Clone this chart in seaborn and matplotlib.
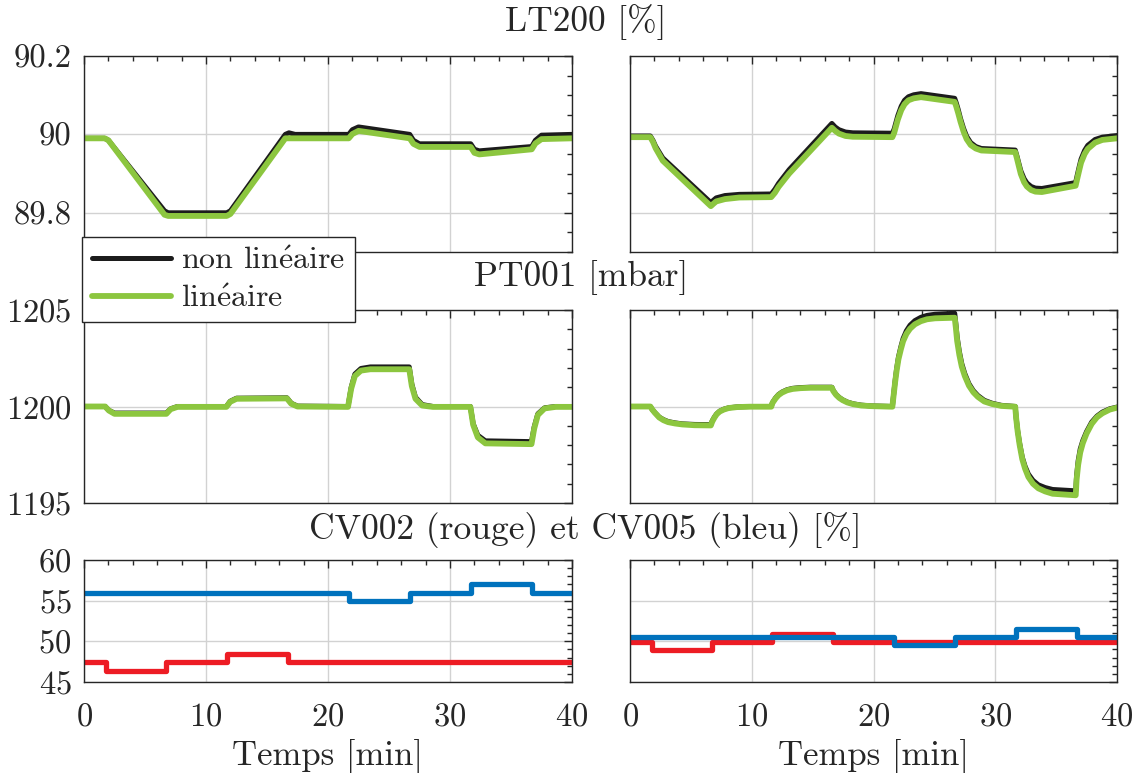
import numpy as np
import pandas as pd
import seaborn as sns
import matplotlib.pyplot as plt
from matplotlib.ticker import MultipleLocator

sns.set_style("white")
plt.rcParams['font.family'] = ['cmr10', 'DejaVu Serif']
plt.rcParams['mathtext.fontset'] = 'cm'
plt.rcParams['axes.formatter.use_mathtext'] = True

# LT200 [%] - left (black = non lineaire, green = lineaire)
t_lt_l = [0, 1.7, 2.0, 6.6, 6.9, 11.7, 12.0, 16.5, 16.8, 17.3, 21.7, 22.0, 22.5,
          26.7, 27.0, 27.5, 31.7, 32.0, 32.4, 36.7, 37.0, 37.5, 40]
lt_l_nl = [89.99, 89.99, 89.985, 89.805, 89.80, 89.80, 89.805, 90.0, 90.004, 90.0,
           90.0, 90.012, 90.019, 90.0, 89.985, 89.976, 89.976, 89.962, 89.958,
           89.969, 89.985, 89.998, 90.0]
lt_l_lin = [89.99, 89.99, 89.985, 89.795, 89.792, 89.792, 89.797, 89.99, 89.99, 89.99,
            89.99, 90.001, 90.009, 89.99, 89.976, 89.968, 89.968, 89.953, 89.949,
            89.962, 89.977, 89.988, 89.99]

# LT200 [%] - right
t_lt_r = [0, 1.67, 1.9, 2.1, 2.69, 6.64, 6.85, 7.08, 7.8, 8.98, 11.6, 11.9, 12.2,
          13.07, 16.58, 16.85, 17.16, 17.7, 18.3, 21.55, 21.7, 21.84, 22.0, 22.28,
          22.55, 22.87, 23.3, 23.9, 26.67, 26.8, 26.96, 27.15, 27.4, 27.65, 27.98,
          28.4, 28.86, 31.64, 31.78, 31.93, 32.1, 32.37, 32.6, 32.95, 33.3, 33.83,
          36.6, 36.75, 36.9, 37.05, 37.34, 37.6, 38.2, 38.8, 40]
lt_r_nl = [89.996, 89.996, 89.984, 89.970, 89.940, 89.826, 89.832, 89.838, 89.844,
           89.847, 89.848, 89.860, 89.875, 89.910, 90.028, 90.019, 90.012, 90.006,
           90.004, 90.003, 90.014, 90.030, 90.048, 90.072, 90.087, 90.096, 90.101,
           90.104, 90.092, 90.080, 90.063, 90.040, 90.015, 89.995, 89.979, 89.969,
           89.964, 89.960, 89.945, 89.927, 89.907, 89.887, 89.876, 89.867, 89.863,
           89.862, 89.877, 89.898, 89.918, 89.937, 89.959, 89.972, 89.987, 89.993,
           89.997]
lt_r_lin = [89.993, 89.993, 89.980, 89.965, 89.933, 89.817, 89.823, 89.829, 89.835,
            89.839, 89.840, 89.851, 89.866, 89.900, 90.017, 90.009, 90.002, 89.996,
            89.994, 89.993, 90.004, 90.020, 90.038, 90.062, 90.077, 90.087, 90.092,
            90.095, 90.083, 90.071, 90.054, 90.032, 90.007, 89.988, 89.973, 89.964,
            89.959, 89.955, 89.939, 89.920, 89.899, 89.878, 89.867, 89.858, 89.854,
            89.853, 89.869, 89.889, 89.909, 89.928, 89.950, 89.963, 89.979, 89.986,
            89.990]

# PT001 [mbar] - left
t_pt_l = [0, 1.73, 2.04, 2.5, 6.75, 7.1, 7.66, 11.67, 11.98, 12.5, 16.63, 16.99,
          17.5, 21.64, 21.9, 22.2, 22.7, 23.47, 26.66, 26.87, 27.17, 27.72, 28.6,
          31.67, 31.9, 32.28, 32.9, 36.68, 36.9, 37.2, 37.75, 38.66, 40]
pt_l_nl = [1200.0, 1200.0, 1199.8, 1199.66, 1199.66, 1199.88, 1200.0, 1200.0,
           1200.27, 1200.43, 1200.45, 1200.17, 1200.02, 1200.0, 1200.99, 1201.68,
           1201.97, 1202.05, 1202.05, 1201.16, 1200.48, 1200.10, 1200.0, 1200.0,
           1199.11, 1198.51, 1198.22, 1198.18, 1198.94, 1199.62, 1199.93, 1200.0,
           1200.0]
pt_l_lin = [1200.0, 1200.0, 1199.79, 1199.62, 1199.62, 1199.86, 1199.98, 1199.98,
            1200.24, 1200.40, 1200.42, 1200.14, 1200.0, 1199.98, 1200.92, 1201.58,
            1201.86, 1201.93, 1201.93, 1201.06, 1200.40, 1200.05, 1199.98, 1199.98,
            1199.05, 1198.40, 1198.09, 1198.05, 1198.85, 1199.56, 1199.90, 1199.98,
            1199.98]

# PT001 [mbar] - right
t_pt_r = [0, 1.67, 1.82, 2.02, 2.4, 2.75, 3.13, 3.7, 4.3, 5.3, 6.64,
          6.75, 6.93, 7.12, 7.37, 7.7, 8.1, 8.8, 9.85,
          11.6, 11.7, 11.96, 12.2, 12.49, 12.9, 13.36, 14.0, 14.82,
          16.58, 16.7, 16.93, 17.18, 17.46, 17.85, 18.33, 19.0, 19.8,
          21.55, 21.65, 21.78, 21.9, 22.05, 22.25, 22.43, 22.7, 23.0, 23.4, 23.89, 24.4, 25.06,
          26.67, 26.77, 26.87, 27.05, 27.25, 27.5, 27.84, 28.2, 28.57, 29.1, 29.74, 30.5,
          31.64, 31.72, 31.84, 32.0, 32.22, 32.45, 32.72, 33.1, 33.54, 34.1, 34.71,
          36.61, 36.68, 36.81, 36.98, 37.19, 37.5, 37.92, 38.35, 38.8, 39.4, 40]
pt_r_nl = [1200.0, 1200.0, 1199.85, 1199.7, 1199.45, 1199.32, 1199.22, 1199.15, 1199.1, 1199.07, 1199.06,
           1199.25, 1199.45, 1199.62, 1199.76, 1199.86, 1199.93, 1199.98, 1200.0,
           1200.0, 1200.2, 1200.45, 1200.62, 1200.75, 1200.87, 1200.94, 1200.98, 1201.0,
           1201.0, 1200.82, 1200.62, 1200.47, 1200.35, 1200.23, 1200.14, 1200.07, 1200.03,
           1200.0, 1200.6, 1201.35, 1201.95, 1202.56, 1203.1, 1203.52, 1203.92, 1204.21, 1204.45, 1204.62, 1204.72, 1204.78,
           1204.83, 1204.25, 1203.6, 1202.85, 1202.22, 1201.7, 1201.18, 1200.82, 1200.57, 1200.32, 1200.17, 1200.06,
           1200.0, 1199.4, 1198.75, 1198.1, 1197.37, 1196.9, 1196.5, 1196.17, 1195.94, 1195.8, 1195.7,
           1195.63, 1196.4, 1197.19, 1197.8, 1198.23, 1198.7, 1199.19, 1199.5, 1199.71, 1199.88, 1199.97]
pt_r_lin = [1200.0, 1200.0, 1199.85, 1199.69, 1199.43, 1199.29, 1199.19, 1199.12, 1199.07, 1199.03, 1199.02,
            1199.21, 1199.42, 1199.6, 1199.74, 1199.84, 1199.92, 1199.97, 1199.99,
            1199.99, 1200.18, 1200.42, 1200.59, 1200.72, 1200.84, 1200.91, 1200.95, 1200.97,
            1200.97, 1200.8, 1200.6, 1200.45, 1200.33, 1200.21, 1200.12, 1200.05, 1200.02,
            1199.99, 1200.56, 1201.28, 1201.86, 1202.45, 1202.97, 1203.38, 1203.76, 1204.03, 1204.26, 1204.42, 1204.52, 1204.57,
            1204.6, 1204.05, 1203.4, 1202.68, 1202.07, 1201.58, 1201.08, 1200.74, 1200.5, 1200.26, 1200.13, 1200.03,
            1199.99, 1199.38, 1198.7, 1198.02, 1197.27, 1196.78, 1196.35, 1196.0, 1195.76, 1195.6, 1195.48,
            1195.4, 1196.2, 1196.98, 1197.62, 1198.1, 1198.6, 1199.1, 1199.44, 1199.65, 1199.84, 1199.94]

# CV002 (rouge) / CV005 (bleu) [%]
t_cv = [0, 1.8, 6.7, 11.7, 16.7, 21.7, 26.7, 31.7, 36.7, 40]
cv002_l = [47.4, 46.4, 47.4, 48.4, 47.4, 47.4, 47.4, 47.4, 47.4, 47.4]
cv005_l = [56.0, 56.0, 56.0, 56.0, 56.0, 55.0, 56.0, 57.0, 56.0, 56.0]
cv002_r = [49.9, 48.9, 49.9, 50.9, 49.9, 49.9, 49.9, 49.9, 49.9, 49.9]
cv005_r = [50.5, 50.5, 50.5, 50.5, 50.5, 49.55, 50.5, 51.55, 50.5, 50.5]

BLACK = '#1c1c1c'
GREEN = '#8cc63f'
RED = '#ed1c24'
BLUE = '#0072bd'
INK = '#262626'

fig = plt.figure(figsize=(11.37, 7.73), dpi=100)
W, H = 1137, 773


def px_axes(x0, y0, x1, y1):
    return fig.add_axes([x0 / W, (H - y1) / H, (x1 - x0) / W, (y1 - y0) / H])


cols = [(84, 572), (630, 1117)]
rows = [(56, 252), (310, 503), (560, 682)]
axes = [[px_axes(c[0], r[0], c[1], r[1]) for c in cols] for r in rows]

lt = [(t_lt_l, lt_l_nl, lt_l_lin), (t_lt_r, lt_r_nl, lt_r_lin)]
pt = [(t_pt_l, pt_l_nl, pt_l_lin), (t_pt_r, pt_r_nl, pt_r_lin)]
cv = [(cv002_l, cv005_l), (cv002_r, cv005_r)]

for j in range(2):
    for i, sets in enumerate([lt, pt]):
        t, nl, lin = sets[j]
        ax = axes[i][j]
        sns.lineplot(x=t, y=nl, ax=ax, color=BLACK, lw=3.6, estimator=None,
                     label='non lin$\\acute{\\mathrm{e}}$aire', legend=False,
                     solid_joinstyle='round')
        sns.lineplot(x=t, y=lin, ax=ax, color=GREEN, lw=4.2, estimator=None,
                     label='lin$\\acute{\\mathrm{e}}$aire', legend=False,
                     solid_joinstyle='round')
    red, blue = cv[j]
    ax = axes[2][j]
    sns.lineplot(x=t_cv, y=red, ax=ax, color=RED, lw=3.8, estimator=None,
                 drawstyle='steps-post', solid_joinstyle='round')
    sns.lineplot(x=t_cv, y=blue, ax=ax, color=BLUE, lw=3.8, estimator=None,
                 drawstyle='steps-post', solid_joinstyle='round')

ylims = [(89.7, 90.2), (1195, 1205), (45, 60)]
yticks = [[89.8, 90.0, 90.2], [1195, 1200, 1205], [45, 50, 55, 60]]
yminor = [0.05, 1, 1]
for i in range(3):
    for j in range(2):
        ax = axes[i][j]
        ax.set_xlim(0, 40)
        ax.set_ylim(*ylims[i])
        ax.set_xticks([0, 10, 20, 30, 40])
        ax.set_yticks(yticks[i])
        ax.xaxis.set_minor_locator(MultipleLocator(2))
        ax.yaxis.set_minor_locator(MultipleLocator(yminor[i]))
        ax.grid(True, which='major', color='#d2d2d2', lw=1)
        ax.set_axisbelow(True)
        ax.tick_params(which='both', direction='in', top=True, right=True,
                       color=INK, width=1, labelsize=23.5, labelcolor=INK)
        ax.tick_params(which='major', length=6)
        ax.tick_params(which='minor', length=3.5)
        ax.tick_params(axis='y', pad=9)
        ax.tick_params(axis='x', pad=15)
        for s in ax.spines.values():
            s.set_color(INK)
            s.set_linewidth(1)
        ax.set_xlabel('')
        ax.set_ylabel('')
        if i < 2:
            ax.tick_params(labelbottom=False)
        else:
            ax.set_xlabel('Temps [min]', fontsize=25, color=INK, labelpad=5)
        if j == 1:
            ax.tick_params(labelleft=False)

axes[0][0].set_yticklabels(['89.8', '90', '90.2'])

fig.text(0.515, 0.972, 'LT200 [%]', ha='center', va='center', fontsize=25.5, color=INK)
fig.text(0.511, 0.641, 'PT001 [mbar]', ha='center', va='center', fontsize=25.5, color=INK)
fig.text(0.515, 0.315, 'CV002 (rouge) et CV005 (bleu) [%]', ha='center', va='center',
         fontsize=25.5, color=INK)

h, l = axes[0][0].get_legend_handles_labels()
leg = fig.legend(h, l, loc='upper left', bbox_to_anchor=(82 / W, (H - 237) / H),
                 borderaxespad=0, fontsize=23, frameon=True, fancybox=False,
                 framealpha=1, edgecolor=INK, handlelength=2.5,
                 handletextpad=0.3, labelspacing=0.3, borderpad=0.3)
leg.get_frame().set_linewidth(1)
for txt in leg.get_texts():
    txt.set_color(INK)

fig.savefig('out.png', dpi=100)
